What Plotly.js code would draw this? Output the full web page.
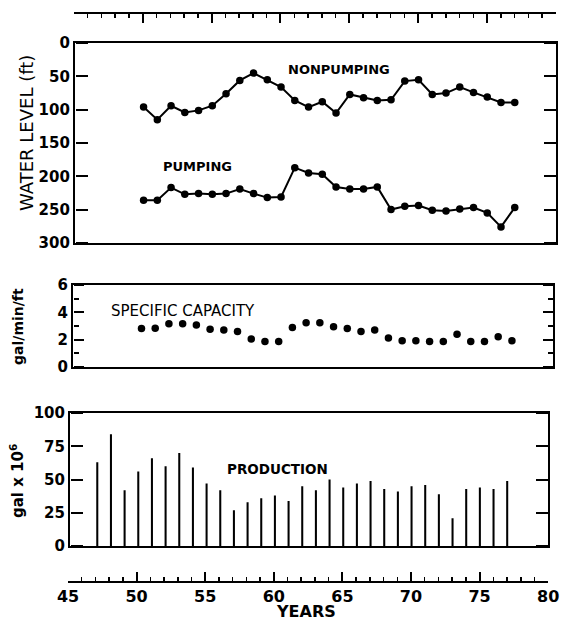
<!DOCTYPE html>
<html>
<head>
<meta charset="utf-8">
<script src="https://cdn.plot.ly/plotly-3.0.1.min.js"></script>
<style>html,body{margin:0;padding:0;background:#fff;}#chart{width:566px;height:620px;}</style>
</head>
<body>
<div id="chart"></div>
<script>
// ---- data ----
const levelYears = [1950,1951,1952,1953,1954,1955,1956,1957,1958,1959,1960,1961,1962,1963,1964,1965,1966,1967,1968,1969,1970,1971,1972,1973,1974,1975,1976,1977];
const nonpumping = [96,115,94,104,101,94,76,56,45,55,66,86,96,88,105,77,82,86,85,57,55,77,75,66,74,81,89,89];
const pumping = [236,236,217,227,226,227,226,219,226,232,231,187,195,197,216,219,219,216,250,245,244,251,252,249,247,255,276,247];
const specCapacity = [2.81,2.83,3.17,3.17,3.07,2.76,2.71,2.59,2.04,1.87,1.87,2.88,3.24,3.24,2.95,2.81,2.59,2.71,2.11,1.92,1.92,1.87,1.87,2.40,1.87,1.87,2.21,1.92];
const prodYears = [1947,1948,1949,1950,1951,1952,1953,1954,1955,1956,1957,1958,1959,1960,1961,1962,1963,1964,1965,1966,1967,1968,1969,1970,1971,1972,1973,1974,1975,1976,1977];
const production = [63,84,42,56,66,60,70,59,47,42,27,33,36,38,34,45,42,50,44,47,49,43,41,45,46,39,21,43,44,43,49];
const levelTicks = [0,50,100,150,200,250,300];
const capTicks = [0,2,4,6];
const prodTicks = [0,25,50,75,100];
const yearTicks = [45,50,55,60,65,70,75,80];

const toX = a => a.map(y => y - 1900);

const FONT = 'DejaVu Sans, Verdana, sans-serif';
const tickFont = {family: FONT, size: 15, color: '#000', weight: 'bold'};

// empty traces: they only make Plotly draw the stand-alone scales and tick-only axes
const scaffold = [['x4','y'],['x5','y3'],['x','y4'],['x','y5'],['x2','y6'],['x2','y7'],['x3','y8'],['x3','y9']]
  .map(([xa, ya]) => ({x: [], y: [], xaxis: xa, yaxis: ya, type: 'scatter', hoverinfo: 'none'}));

const traces = scaffold.concat([
  {x: toX(levelYears), y: nonpumping, xaxis: 'x3', yaxis: 'y3', type: 'scatter', mode: 'lines+markers',
   line: {color: '#000', width: 2}, marker: {color: '#000', size: 7.5}, hoverinfo: 'none'},
  {x: toX(levelYears), y: pumping, xaxis: 'x3', yaxis: 'y3', type: 'scatter', mode: 'lines+markers',
   line: {color: '#000', width: 2}, marker: {color: '#000', size: 7.5}, hoverinfo: 'none'},
  {x: toX(levelYears), y: specCapacity, xaxis: 'x2', yaxis: 'y2', type: 'scatter', mode: 'markers',
   marker: {color: '#000', size: 7.5}, hoverinfo: 'none'},
  {x: toX(prodYears), y: production, xaxis: 'x', yaxis: 'y', type: 'bar', width: 0.15,
   marker: {color: '#000', line: {width: 0}}, hoverinfo: 'none'}
]);

const boxX = (anchor, domain) => ({
  range: [45, 80], anchor: anchor, domain: domain, showline: true, mirror: true, linewidth: 2, linecolor: '#000',
  ticks: '', showticklabels: false, showgrid: false, zeroline: false, fixedrange: true
});
// labelled frame axis (no ticks of its own)
const boxY = (anchor, domain, range, ticks) => ({
  anchor: anchor, domain: domain, range: range, tickmode: 'array', tickvals: ticks, ticktext: ticks.map(String),
  showline: true, mirror: true, linewidth: 2, linecolor: '#000', ticks: '',
  tickfont: tickFont, showgrid: false, zeroline: false, fixedrange: true
});
// tick-only axis sitting on a frame edge, ticks pointing into the panel
const tickY = (base, position, side, range, ticks, len, minor) => {
  const ax = {
    overlaying: base, anchor: 'free', position: position, side: side, range: range,
    tickmode: 'array', tickvals: ticks, showticklabels: false, showline: false,
    ticks: 'outside', ticklen: len, tickwidth: 2, tickcolor: '#000',
    showgrid: false, zeroline: false, fixedrange: true
  };
  if (minor) ax.minor = {dtick: 1, tick0: 0, ticks: 'outside', ticklen: minor, tickwidth: 2, tickcolor: '#000', showgrid: false};
  return ax;
};
const scaleX = (position, side, domain, labels) => ({
  anchor: 'free', position: position, side: side, domain: domain, range: [45, 80],
  tickvals: yearTicks, ticktext: yearTicks.map(String), showticklabels: labels,
  ticks: 'inside', ticklen: 9, tickwidth: 2, tickcolor: '#000',
  minor: {dtick: 1, tick0: 45, ticks: 'inside', ticklen: 4, tickwidth: 1.5, tickcolor: '#000', showgrid: false},
  showline: true, linewidth: 2, linecolor: '#000', showgrid: false, zeroline: false,
  tickfont: {family: FONT, size: 16, color: '#000', weight: 'bold'}, fixedrange: true
});

const dBottom = [0.004, 0.984], dMiddle = [0.010, 0.994], dTop = [0.014, 1];

const layout = {
  width: 566, height: 620,
  margin: {l: 68, r: 10, t: 13, b: 38},
  paper_bgcolor: '#fff', plot_bgcolor: 'rgba(0,0,0,0)',
  showlegend: false,
  xaxis: boxX('y', dBottom),
  xaxis2: boxX('y2', dMiddle),
  xaxis3: boxX('y3', dTop),
  xaxis4: scaleX(0, 'bottom', [0, 0.984], true),
  xaxis5: scaleX(1, 'top', [0.012, 1], false),
  yaxis: boxY('x', [0.063, 0.297], [0, 100], prodTicks),
  yaxis2: boxY('x2', [0.378, 0.522], [0, 6], capTicks),
  yaxis3: boxY('x3', [0.596, 0.947], [300, 0], levelTicks),
  yaxis4: tickY('y', dBottom[0], 'right', [0, 100], prodTicks, 12),
  yaxis5: tickY('y', dBottom[1], 'left', [0, 100], prodTicks, 12),
  yaxis6: tickY('y2', dMiddle[0], 'right', [0, 6], capTicks, 10, 5),
  yaxis7: tickY('y2', dMiddle[1], 'left', [0, 6], capTicks, 10, 5),
  yaxis8: tickY('y3', dTop[0], 'right', [300, 0], levelTicks, 12),
  yaxis9: tickY('y3', dTop[1], 'left', [300, 0], levelTicks, 12),
  annotations: [
    {text: 'NONPUMPING', x: 64.2, y: 40, xref: 'x3', yref: 'y3', showarrow: false,
     font: {family: FONT, size: 13, color: '#000', weight: 'bold'}},
    {text: 'PUMPING', x: 53.9, y: 185, xref: 'x3', yref: 'y3', showarrow: false,
     font: {family: FONT, size: 13, color: '#000', weight: 'bold'}},
    {text: 'SPECIFIC CAPACITY', x: 53.0, y: 4.08, xref: 'x2', yref: 'y2', showarrow: false,
     font: {family: FONT, size: 15, color: '#000'}},
    {text: 'PRODUCTION', x: 60.2, y: 58, xref: 'x', yref: 'y', showarrow: false,
     font: {family: FONT, size: 13.5, color: '#000', weight: 'bold'}},
    {text: 'WATER LEVEL (ft)', x: (26 - 68) / 488, y: (582 - 133) / 569, xref: 'paper', yref: 'paper',
     xanchor: 'center', yanchor: 'middle', textangle: -90, showarrow: false,
     font: {family: FONT, size: 18, color: '#000'}},
    {text: 'gal/min/ft', x: (18 - 68) / 488, y: (582 - 327) / 569, xref: 'paper', yref: 'paper',
     xanchor: 'center', yanchor: 'middle', textangle: -90, showarrow: false,
     font: {family: FONT, size: 14, color: '#000', weight: 'bold'}},
    {text: 'gal x 10<sup>6</sup>', x: (17 - 68) / 488, y: (582 - 481) / 569, xref: 'paper', yref: 'paper',
     xanchor: 'center', yanchor: 'middle', textangle: -90, showarrow: false,
     font: {family: FONT, size: 15, color: '#000', weight: 'bold'}},
    {text: 'YEARS', x: (306 - 68) / 488, y: (582 - 611) / 569, xref: 'paper', yref: 'paper',
     xanchor: 'center', yanchor: 'middle', showarrow: false,
     font: {family: FONT, size: 16, color: '#000', weight: 'bold'}}
  ]
};

Plotly.newPlot('chart', traces, layout, {staticPlot: true, displayModeBar: false});
</script>
</body>
</html>
